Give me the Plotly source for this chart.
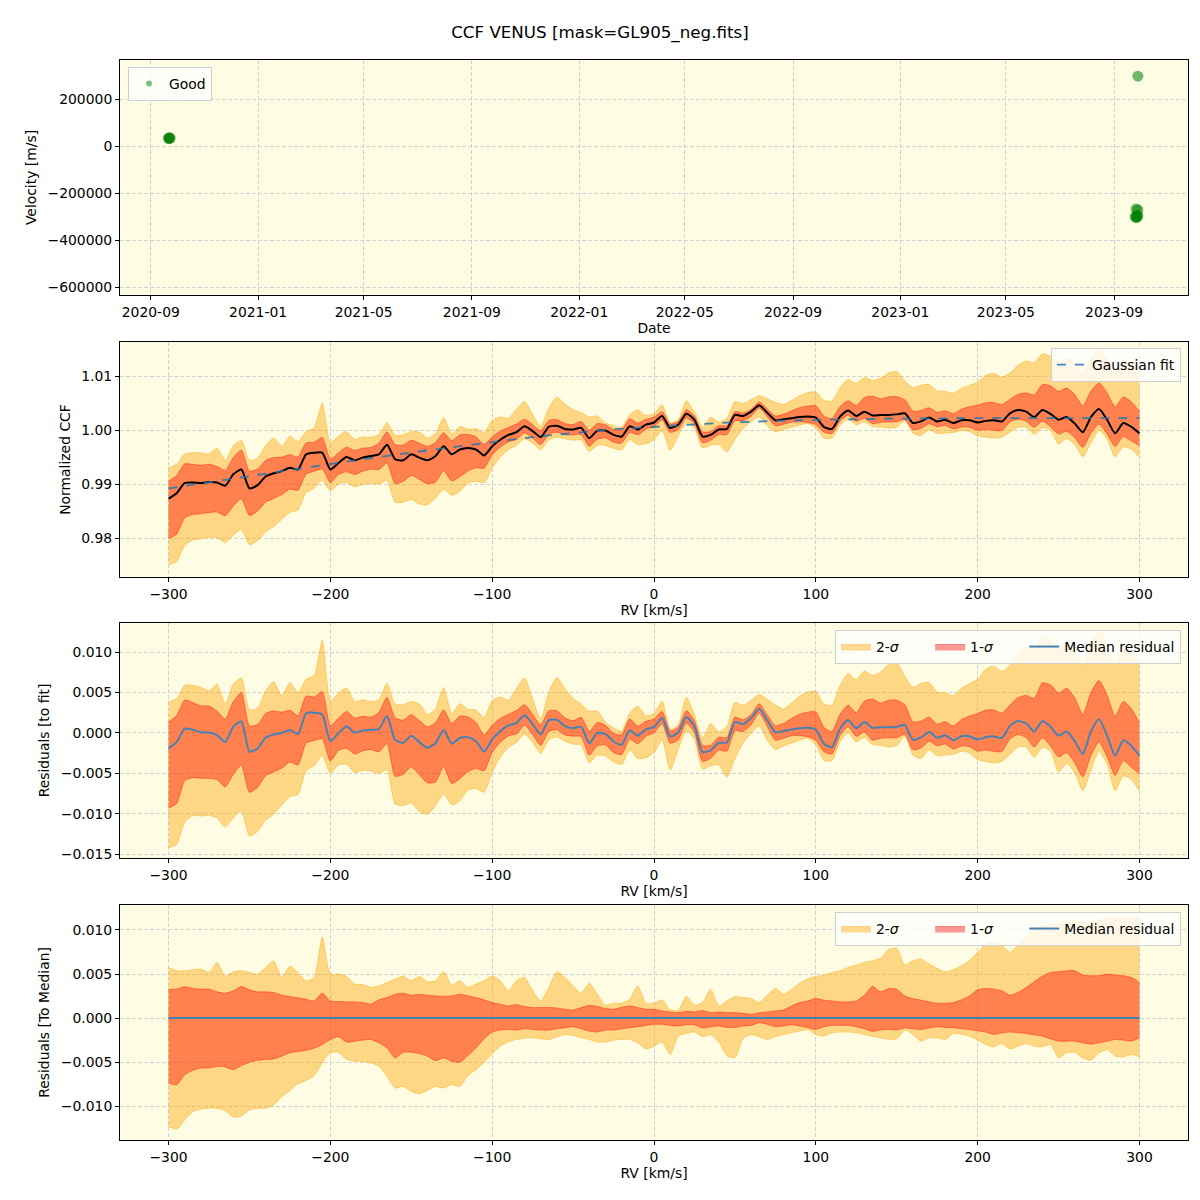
import plotly.graph_objects as go
import numpy as np

# ---------------- data ----------------
obs_dates = ["2020-09-21", "2020-09-22", "2020-09-22", "2020-09-23",
             "2023-09-25", "2023-09-26", "2023-09-27", "2023-09-27", "2023-09-28",
             "2023-09-26", "2023-09-28", "2023-09-28"]
obs_velocity = [33000, 35000, 32000, 34000,
                -300000, -305000, -298000, -302000, -296000,
                -268000, -272000, 297000]

rv_grid = list(range(-300, 305, 5))

ccf_median = [
    0.9873, 0.9883, 0.9902, 0.9903, 0.9902, 0.9904, 0.9903, 0.9897, 0.9918, 0.9927,
    0.9892, 0.9898, 0.9914, 0.9920, 0.9924, 0.9930, 0.9927, 0.9955, 0.9958, 0.9958,
    0.9927, 0.9939, 0.9950, 0.9944, 0.9949, 0.9952, 0.9955, 0.9973, 0.9946, 0.9944,
    0.9955, 0.9949, 0.9944, 0.9952, 0.9970, 0.9955, 0.9964, 0.9967, 0.9964, 0.9953,
    0.9970, 0.9982, 0.9991, 0.9996, 1.0007, 0.9998, 0.9987, 1.0006, 1.0008, 1.0002,
    1.0001, 1.0004, 0.9985, 0.9999, 0.9999, 0.9991, 0.9988, 1.0007, 1.0001, 1.0010,
    1.0014, 1.0026, 1.0004, 1.0010, 1.0030, 1.0019, 0.9988, 0.9991, 1.0001, 1.0002,
    1.0028, 1.0026, 1.0034, 1.0046, 1.0032, 1.0018, 1.0020, 1.0022, 1.0024, 1.0025,
    1.0023, 1.0006, 1.0002, 1.0025, 1.0036, 1.0026, 1.0034, 1.0027, 1.0028, 1.0028,
    1.0029, 1.0031, 1.0013, 1.0016, 1.0023, 1.0016, 1.0019, 1.0013, 1.0018, 1.0018,
    1.0014, 1.0017, 1.0018, 1.0016, 1.0031, 1.0037, 1.0034, 1.0024, 1.0037, 1.0030,
    1.0019, 1.0024, 1.0012, 0.9996, 1.0024, 1.0039, 1.0019, 0.9994, 1.0013, 1.0006,
    0.9994]

gauss_fit = [
    0.98920, 0.98943, 0.98966, 0.98989, 0.99012, 0.99035, 0.99058, 0.99081, 0.99104, 0.99127,
    0.99150, 0.99173, 0.99195, 0.99218, 0.99240, 0.99263, 0.99285, 0.99307, 0.99329, 0.99351,
    0.99373, 0.99394, 0.99416, 0.99437, 0.99459, 0.99480, 0.99501, 0.99521, 0.99542, 0.99562,
    0.99583, 0.99603, 0.99623, 0.99643, 0.99663, 0.99683, 0.99702, 0.99722, 0.99741, 0.99761,
    0.99780, 0.99798, 0.99816, 0.99834, 0.99852, 0.99870, 0.99886, 0.99902, 0.99918, 0.99934,
    0.99950, 0.99963, 0.99976, 0.99989, 1.00002, 1.00015, 1.00025, 1.00035, 1.00045, 1.00055,
    1.00065, 1.00074, 1.00083, 1.00092, 1.00101, 1.00110, 1.00117, 1.00124, 1.00131, 1.00138,
    1.00145, 1.00150, 1.00155, 1.00160, 1.00165, 1.00170, 1.00174, 1.00178, 1.00182, 1.00186,
    1.00190, 1.00193, 1.00195, 1.00198, 1.00200, 1.00203, 1.00205, 1.00207, 1.00208, 1.00210,
    1.00212, 1.00213, 1.00214, 1.00215, 1.00217, 1.00218, 1.00219, 1.00219, 1.00220, 1.00220,
    1.00221, 1.00222, 1.00222, 1.00222, 1.00222, 1.00222, 1.00222, 1.00222, 1.00222, 1.00222,
    1.00222, 1.00222, 1.00222, 1.00221, 1.00221, 1.00221, 1.00221, 1.00220, 1.00220, 1.00220,
    1.00220]

# band edges relative to the median CCF, in units of 1e-3
sig2_hi = [
    5.75, 5.37, 5.37, 5.49, 5.56, 5.18, 6.32, 4.73, 5.26, 5.37, 5.18, 4.99, 5.75, 6.51, 4.61, 5.87,
    5.18, 4.23, 4.61, 9.18, 4.99, 4.99, 4.73, 3.85, 3.81, 3.47, 3.66, 4.04, 4.42, 4.73, 4.23,
    4.73, 4.11, 4.23, 5.26, 3.73, 4.23, 3.47, 3.85, 4.23, 4.80, 4.23, 3.09, 4.23, 4.61, 3.09,
    1.94, 3.47, 5.26, 4.61, 3.66, 2.82, 3.96, 2.71, 1.45, 1.68, 1.68, 2.13, 3.66, 1.68, 1.68,
    2.06, 0.91, 0.91, 2.44, 1.45, 1.75, 3.28, 1.37, 1.94, 2.44, 2.32, 2.21, 1.75, 2.59, 3.35,
    2.71, 3.28, 3.96, 4.42, 4.73, 4.88, 5.18, 5.37, 5.75, 6.02, 6.32, 6.51, 6.78, 7.77, 7.92,
    6.02, 6.51, 6.71, 6.13, 5.64, 5.26, 5.49, 5.94, 6.51, 7.47, 8.42, 8.69, 8.23, 7.47, 8.31,
    9.37, 10.06, 10.44, 10.63, 10.71, 10.90, 11.09, 10.97, 10.90, 11.09, 11.28, 11.35, 11.43, 11.47, 11.47]
sig1_hi = [
    3.28, 3.28, 3.54, 3.35, 3.28, 3.28, 2.97, 2.82, 3.09, 3.58, 3.20, 2.97, 2.97, 2.90, 2.59, 2.44,
    2.29, 2.13, 1.94, 2.82, 1.94, 1.87, 1.83, 1.83, 1.75, 1.56, 2.06, 2.32, 2.71, 2.82, 2.59,
    2.67, 2.59, 2.51, 2.48, 2.51, 2.71, 2.51, 2.32, 2.06, 1.75, 1.56, 1.37, 1.52, 1.30, 1.18,
    1.18, 1.18, 1.14, 0.99, 0.91, 1.18, 1.45, 1.30, 1.07, 0.99, 1.22, 1.37, 1.18, 0.99, 0.99,
    0.80, 0.69, 0.61, 0.76, 0.69, 0.84, 0.61, 0.69, 0.61, 0.61, 0.53, 0.42, 0.61, 0.69, 0.80,
    0.91, 1.37, 1.75, 1.94, 2.21, 2.02, 1.94, 1.83, 1.83, 1.94, 2.59, 3.58, 2.97, 3.35, 3.28,
    2.51, 2.21, 2.02, 1.83, 1.68, 1.68, 1.75, 2.06, 2.51, 3.20, 3.35, 3.28, 3.09, 2.59, 2.90,
    3.47, 4.11, 4.73, 5.18, 5.26, 5.37, 5.37, 4.88, 4.80, 4.80, 4.99, 4.88, 4.80, 4.61, 4.04]
sig1_lo = [
    -7.39, -7.58, -6.44, -5.94, -5.68, -5.68, -5.49, -5.56, -5.87, -5.41, -5.03, -4.80, -4.72, -4.65, -4.34, -3.96,
    -3.81, -3.66, -3.43, -3.01, -2.44, -2.13, -2.74, -2.63, -2.51, -2.44, -2.82, -3.39, -4.53, -3.89, -3.89,
    -4.04, -4.34, -4.84, -4.53, -4.91, -5.03, -4.27, -3.39, -2.36, -1.60, -1.37, -1.30, -1.37, -1.22, -1.30,
    -1.37, -1.37, -1.22, -1.10, -0.99, -1.22, -1.49, -1.60, -1.37, -1.37, -1.22, -1.10, -0.99, -0.84, -0.72,
    -0.72, -0.84, -0.91, -0.76, -0.76, -1.14, -0.99, -0.91, -1.07, -1.07, -0.91, -0.84, -0.53, -0.72, -0.99,
    -0.91, -0.76, -0.91, -1.10, -1.30, -0.99, -0.84, -0.84, -0.84, -0.99, -1.22, -1.52, -1.37, -1.30, -1.37,
    -1.14, -1.22, -1.30, -1.14, -0.99, -1.07, -1.10, -1.22, -1.30, -1.45, -1.60, -1.87, -1.68, -1.60, -1.68,
    -1.75, -1.91, -2.06, -2.36, -2.63, -2.63, -2.63, -2.82, -2.97, -2.82, -2.63, -2.44, -2.51, -2.63, -2.25]
sig2_lo = [
    -12.34, -12.65, -11.58, -10.63, -10.36, -10.25, -10.25, -10.52, -11.28, -11.13, -10.44, -10.25, -10.25, -9.87, -8.92, -8.23,
    -7.47, -7.09, -6.55, -5.11, -3.96, -3.89, -4.72, -4.91, -4.95, -5.11, -5.49, -6.63, -7.96, -7.77, -8.34,
    -8.61, -8.23, -7.77, -7.96, -7.58, -7.77, -6.55, -5.87, -5.03, -4.04, -3.20, -2.74, -2.44, -2.29, -2.25,
    -2.36, -2.44, -2.13, -1.87, -1.98, -2.25, -2.44, -2.74, -2.74, -2.51, -2.44, -2.44, -2.82, -3.51, -3.20,
    -2.74, -4.15, -2.06, -1.75, -1.60, -2.13, -1.91, -2.74, -4.27, -4.53, -2.36, -1.87, -2.13, -2.44, -2.13,
    -1.87, -1.68, -1.49, -1.30, -1.87, -2.06, -1.68, -1.60, -1.60, -1.68, -1.87, -2.06, -2.25, -2.44, -2.36,
    -1.37, -1.87, -2.63, -2.25, -2.25, -2.44, -1.75, -1.87, -2.06, -2.51, -3.01, -3.28, -2.90, -3.51, -3.20,
    -2.90, -3.20, -3.28, -3.01, -4.53, -3.96, -3.89, -4.53, -4.80, -3.96, -3.58, -4.34, -4.42, -4.15, -4.42]

# ---------------- derived series ----------------
rv = np.array(rv_grid, dtype=float)
med = np.array(ccf_median)
fit = np.array(gauss_fit)
o2h = np.array(sig2_hi) * 1e-3
o1h = np.array(sig1_hi) * 1e-3
o1l = np.array(sig1_lo) * 1e-3
o2l = np.array(sig2_lo) * 1e-3

FONT = "DejaVu Sans"
FS = 13.9
BG = "#fefce3"
C2 = "rgba(255,165,0,0.42)"
C1 = "rgba(255,0,0,0.40)"
GRID = "#d2d2d2"
BLUE = "#4682b4"
NB = "\u00a0"
SPL = dict(shape="spline", smoothing=0.6)

fig = go.Figure()


def add_band(lo, hi, xa, ya, name, color, legend, show):
    # lower edge, then upper edge filled down to it (same subplot, consecutive traces)
    fig.add_trace(go.Scatter(x=rv, y=lo, xaxis=xa, yaxis=ya, mode="lines",
                             line=dict(color=color, width=1, **SPL),
                             showlegend=False, hoverinfo="skip", legend=legend))
    fig.add_trace(go.Scatter(x=rv, y=hi, xaxis=xa, yaxis=ya, mode="lines", fill="tonexty",
                             fillcolor=color, line=dict(color=color, width=1, **SPL),
                             name=name, legend=legend, showlegend=show, hoverinfo="skip"))


# Panel 1: velocities
fig.add_trace(go.Scatter(x=obs_dates, y=obs_velocity, mode="markers", xaxis="x", yaxis="y",
                         marker=dict(color="green", size=11, opacity=0.55, line=dict(width=0)),
                         showlegend=False))
fig.add_trace(go.Scatter(x=[None], y=[None], mode="markers", xaxis="x", yaxis="y",
                         marker=dict(color="green", size=6, opacity=0.5),
                         name="Good", legend="legend", showlegend=True))

# Panel 2: CCF
add_band(med + o2l, med + o2h, "x2", "y2", "2-σ", C2, "legend2", False)
add_band(med + o1l, med + o1h, "x2", "y2", "1-σ", C1, "legend2", False)
fig.add_trace(go.Scatter(x=rv, y=med, mode="lines", xaxis="x2", yaxis="y2",
                         line=dict(color="black", width=2, **SPL), showlegend=False))
fig.add_trace(go.Scatter(x=rv, y=fit, mode="lines", xaxis="x2", yaxis="y2",
                         line=dict(color="rgba(31,119,180,0.85)", width=1.8, dash="dash"),
                         name="Gaussian fit", legend="legend2", showlegend=True))

# Panel 3: residuals to fit
n2 = "2-<i>σ</i>" + NB * 6
n1 = "1-<i>σ</i>" + NB * 6
add_band(med + o2l - fit, med + o2h - fit, "x3", "y3", n2, C2, "legend3", True)
add_band(med + o1l - fit, med + o1h - fit, "x3", "y3", n1, C1, "legend3", True)
fig.add_trace(go.Scatter(x=rv, y=med - fit, mode="lines", xaxis="x3", yaxis="y3",
                         line=dict(color=BLUE, width=2, **SPL),
                         name="Median residual", legend="legend3", showlegend=True))

# Panel 4: residuals to median
add_band(o2l, o2h, "x4", "y4", n2, C2, "legend4", True)
add_band(o1l, o1h, "x4", "y4", n1, C1, "legend4", True)
fig.add_trace(go.Scatter(x=rv, y=med - med, mode="lines", xaxis="x4", yaxis="y4",
                         line=dict(color=BLUE, width=2),
                         name="Median residual", legend="legend4", showlegend=True))

axis_common = dict(showline=True, linecolor="black", linewidth=1, mirror=True,
                   ticks="outside", ticklen=4, tickcolor="black",
                   showgrid=True, gridcolor=GRID, griddash="4px,2px", gridwidth=1,
                   zeroline=False, tickfont=dict(size=FS, color="black"),
                   title_font=dict(size=FS, color="black"))
y_common = dict(axis_common, title_standoff=7)

rv_axis = dict(axis_common, range=[-330, 330], tickmode="array",
               tickvals=[-300, -200, -100, 0, 100, 200, 300],
               title_text="RV [km/s]", title_standoff=3)

legend_common = dict(bgcolor="rgba(255,255,255,0.8)", bordercolor="#d0d0d0", borderwidth=1,
                     font=dict(size=FS, color="black"), traceorder="normal")

# the page adds an 8 px body margin: plot areas land at x 120-1188 on screen
fig.update_layout(
    width=1200, height=1200,
    margin=dict(l=112, r=20, t=52, b=68),
    paper_bgcolor="white", plot_bgcolor=BG,
    font=dict(family=FONT, size=FS, color="black"),
    title=dict(text="CCF VENUS [mask=GL905_neg.fits]", x=0.4933, xanchor="center",
               xref="container", y=0.98, yanchor="middle", font=dict(size=16.7, color="black")),
    xaxis=dict(axis_common, domain=[0, 1], anchor="y", type="date",
               range=["2020-07-28", "2023-11-24"], tick0="2020-09-01", dtick="M4",
               tickformat="%Y-%m", title_text="Date", title_standoff=3),
    yaxis=dict(y_common, domain=[0.7824, 1.0], anchor="x", range=[-634000, 366000],
               tickmode="array", tickvals=[-600000, -400000, -200000, 0, 200000],
               ticktext=["−600000", "−400000", "−200000", "0", "200000"],
               title_text="Velocity [m/s]"),
    xaxis2=dict(rv_axis, domain=[0, 1], anchor="y2"),
    yaxis2=dict(y_common, domain=[0.5213, 0.7389], anchor="x2", range=[0.9728, 1.0163],
                tickmode="array", tickvals=[0.98, 0.99, 1.00, 1.01], tickformat=".2f",
                title_text="Normalized CCF"),
    xaxis3=dict(rv_axis, domain=[0, 1], anchor="y3"),
    yaxis3=dict(y_common, domain=[0.2611, 0.4787], anchor="x3", range=[-0.01547, 0.01361],
                tickmode="array", tickvals=[-0.015, -0.010, -0.005, 0.0, 0.005, 0.010],
                tickformat=".3f", title_text="Residuals [to fit]"),
    xaxis4=dict(rv_axis, domain=[0, 1], anchor="y4"),
    yaxis4=dict(y_common, domain=[0.0, 0.2176], anchor="x4", range=[-0.01386, 0.01284],
                tickmode="array", tickvals=[-0.010, -0.005, 0.0, 0.005, 0.010],
                tickformat=".3f", title_text="Residuals [To Median]"),
    legend=dict(legend_common, x=0.0075, y=0.9935, xanchor="left", yanchor="top"),
    legend2=dict(legend_common, x=0.9934, y=0.7333, xanchor="right", yanchor="top"),
    legend3=dict(legend_common, x=0.9934, y=0.4722, xanchor="right", yanchor="top",
                 orientation="h"),
    legend4=dict(legend_common, x=0.9934, y=0.2111, xanchor="right", yanchor="top",
                 orientation="h"),
    showlegend=True,
)

fig.write_html("out.html")
